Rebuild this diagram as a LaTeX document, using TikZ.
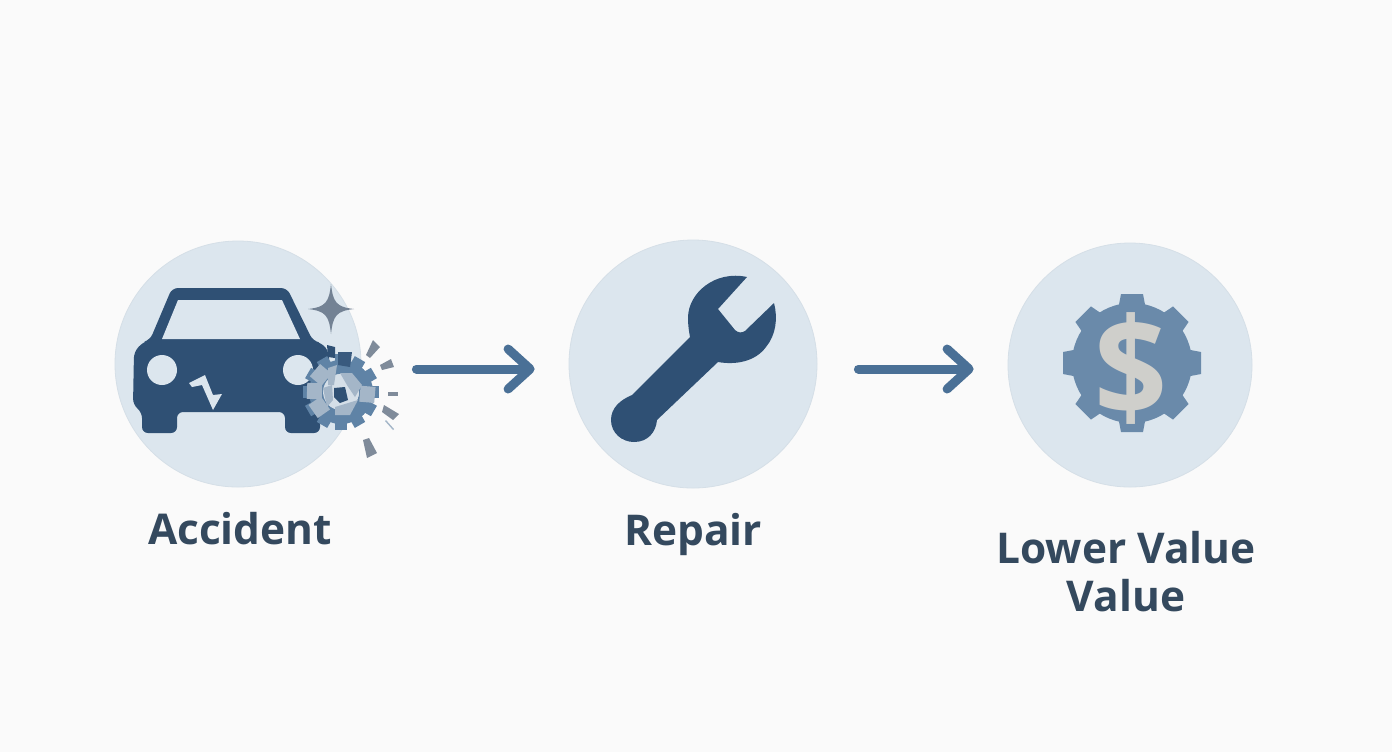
\documentclass[tikz,border=0pt]{standalone}
\usepackage{fontspec}
\setmainfont{Open Sans}
\usetikzlibrary{arrows.meta}
\definecolor{pagebg}{HTML}{FAFAFA}
\definecolor{discfill}{HTML}{DCE6EE}
\definecolor{navy}{HTML}{2F5074}
\definecolor{steel}{HTML}{4A7096}
\definecolor{gearblue}{HTML}{6A8AAA}
\definecolor{ringblue}{HTML}{5F83A6}
\definecolor{shard}{HTML}{A4B6C8}
\definecolor{hubpale}{HTML}{D5DFE8}
\definecolor{debris}{HTML}{7F8B9A}
\definecolor{coin}{HTML}{CFCFCB}
\definecolor{labelink}{HTML}{34495E}
\tikzset{
  disc/.style={circle, fill=discfill, draw=discfill!97!black, line width=0.4pt, inner sep=0pt, minimum size=#1},
  caption/.style={font=\fontsize{21.2}{24}\selectfont\bfseries, text=labelink, align=center},
  flow/.style={draw=steel, line width=4.5pt, line cap=round, -{Straight Barb[length=11pt,width=20pt,round]}},
}
\begin{document}
\begin{tikzpicture}[x=0.5pt, y=-0.5pt]
    \fill [pagebg] (0,0) rectangle (1392,752);

    \node [disc=123pt] (accident) at (238,364) {};
    \node [disc=124pt] (repair)   at (693,364) {};
    \node [disc=122pt] (value)    at (1130,365) {};

    \node [caption, below of=accident, node distance=82.5pt, xshift=1pt] (accidentlabel) {Accident};
    \node [caption, below of=repair, node distance=85pt] (repairlabel) {Repair};
    \node [caption, below of=value, node distance=103.5pt, xshift=-2pt] (valuelabel) {Lower Value\\Value};

    % Now draw the arrows:
    \draw [flow, shorten <=27.5pt, shorten >=17pt] ([yshift=-2.5pt]accident.east) -- ([yshift=-2.5pt]repair.west);
    \draw [flow, shorten <=20.5pt, shorten >=17pt] ([yshift=-2.5pt]repair.east) -- ([yshift=-2pt]value.west);

    % car
    \fill [navy, rounded corners=3pt]
        (172,288) -- (287,288) -- (313,341) -- (322,343) -- (329,352) -- (329,412) -- (320,412)
        -- (320,433) -- (285,433) -- (285,412) -- (177,412) -- (177,433) -- (142,433) -- (142,412)
        -- (133,405) -- (134,352) -- (143,342) -- (150,340) -- cycle;
    \fill [discfill] (178,300) -- (282,300) -- (300,339) -- (162,339) -- cycle;
    \fill [discfill] (162,370) circle [radius=15];
    \fill [discfill] (298,370) circle [radius=15];
    \fill [discfill] (189,383) -- (205,375) -- (213,395) -- (222,394) -- (213,410) -- (202,385) -- (192,387) -- cycle;

    % broken gear on the car
    \foreach \a in {0,30,...,330}
        \fill [ringblue, rotate around={\a:(341,392)}] (335,354) rectangle (347,372);
    \draw [ringblue, line width=7pt] (341,392) circle [radius=25];
    \fill [hubpale] (341,392) circle [radius=18];
    \foreach \a in {50,88,125,-95}
        \fill [shard, rotate around={\a:(341,392)}] (333,358) rectangle (349,373);
    \fill [shard] (340,373) -- (352,373) -- (362,385) -- (355,397) -- (347,385) -- cycle;
    \fill [shard] (323,388) -- (332,385) -- (333,400) -- (327,407) -- cycle;
    \fill [shard] (335,407) -- (358,400) -- (350,415) -- (335,415) -- cycle;
    \fill [shard] (328,368) -- (337,365) -- (334,385) -- (328,385) -- cycle;
    \fill [navy] (334,388) -- (345,387) -- (348,400) -- (340,403) -- (334,397) -- cycle;
    \fill [navy] (327,345) -- (335,347) -- (335,358) -- (328,357) -- cycle;
    \fill [navy!80!ringblue] (338,352) -- (352,352) -- (350,367) -- (338,365) -- cycle;

    % debris and star
    \fill [debris] (373,340) -- (380,347) -- (370,358) -- (366,355) -- cycle;
    \fill [debris] (380,365) -- (391,359) -- (394,367) -- (382,370) -- cycle;
    \fill [debris] (388,392) rectangle (398,396);
    \fill [debris] (384,405) -- (399,414) -- (393,420) -- (382,412) -- cycle;
    \fill [debris] (363,440) -- (369,438) -- (377,453) -- (367,458) -- cycle;
    \fill [shard] (385,421) -- (386,420) -- (394,429) -- (393,430) -- cycle;
    \fill [debris!85!navy] (331,284) .. controls (333,302) and (336,307) .. (354,309)
        .. controls (336,311) and (333,316) .. (331,334)
        .. controls (329,316) and (326,311) .. (308,309)
        .. controls (326,307) and (329,302) .. (331,284) -- cycle;

    % wrench
    \fill [navy] (747,277) .. controls (715,270) and (688,293) .. (688,318)
        .. controls (688,325) and (689,332) .. (690,337) -- (632,395)
        .. controls (620,400) and (611,408) .. (611,420)
        .. controls (611,433) and (622,442) .. (634,442)
        .. controls (648,442) and (656,432) .. (657,420) -- (718,362)
        .. controls (735,365) and (755,362) .. (766,347)
        .. controls (776,335) and (778,318) .. (774,303)
        -- (745,331) .. controls (742,333) and (738,333) .. (735,330)
        -- (718,309) -- cycle;

    % gear and dollar
    \foreach \a in {0,45,...,315}
        \fill [gearblue, rotate around={\a:(1132,363)}] (1121,294) -- (1143,294) -- (1147,315) -- (1117,315) -- cycle;
    \fill [gearblue] (1132,363) circle [radius=60];
    \node [font=\fontsize{64}{64}\selectfont\bfseries, text=coin, inner sep=0pt] (dollar) at (1131,369) {\scalebox{1}[1.07]{\$}};
\end{tikzpicture}
\end{document}
